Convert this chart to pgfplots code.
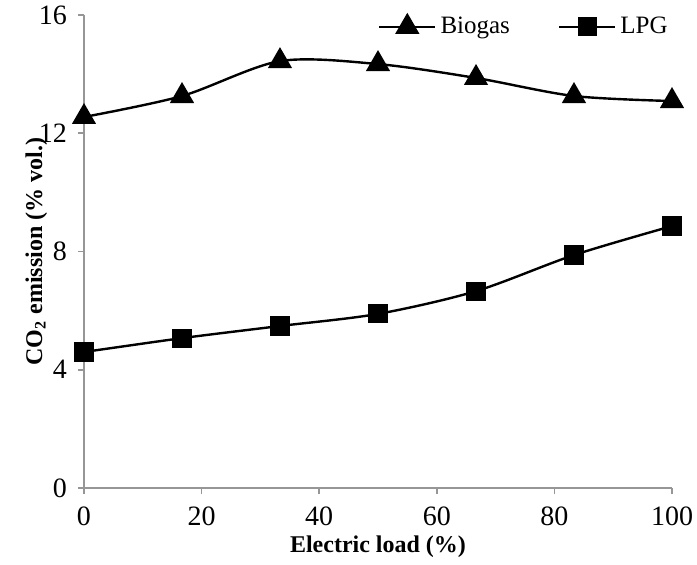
\documentclass[border=0pt]{standalone}
\usepackage{pgfplots}
\pgfplotsset{compat=1.18}
\usepackage{fontspec}
\setmainfont{Liberation Serif}
\definecolor{axgray}{RGB}{150,150,150}
\begin{document}
\begin{tikzpicture}
\begin{axis}[
  name=ax,
  scale only axis,
  width=294pt, height=236.5pt,
  xmin=0, xmax=100, ymin=0, ymax=16,
  xtick={0,20,40,60,80,100},
  ytick={0,4,8,12,16},
  axis lines=left,
  axis line style={axgray, line width=0.8pt, -},
  tick style={axgray, line width=0.8pt},
  tick align=outside,
  major tick length=3pt,
  /pgf/number format/assume math mode=true,
  ticklabel style={font=\fontsize{14}{14}\selectfont},
  xticklabel style={yshift=-3pt},
  yticklabel style={anchor=east, xshift=-2pt},
  xlabel={\textbf{Electric load (\%)}},
  ylabel={\textbf{CO\textsubscript{2} emission (\% vol.)}},
  label style={font=\fontsize{12}{12}\selectfont},
  xlabel style={yshift=2pt},
  ylabel style={yshift=-11pt},
  legend columns=2,
  legend style={draw=none, fill=none, at={(1.0,1.005)}, anchor=north east,
    font=\fontsize{12.5}{12.5}\selectfont, inner sep=0pt,
    /tikz/every even column/.append style={column sep=22pt}},
  legend image code/.code={%
    \draw[mark repeat=2,mark phase=2,#1] plot coordinates {(0pt,0pt) (14pt,0pt) (28pt,0pt)};},
  legend cell align=left,
  clip=false,
]
\addplot[black, line width=1.2pt, smooth, tension=0.5, mark=triangle*, mark size=5.8pt, mark options={solid}]
coordinates {(0,12.55) (16.67,13.26) (33.33,14.44) (50,14.34) (66.67,13.87) (83.33,13.26) (100,13.09)};
\addlegendentry{Biogas}
\addplot[black, line width=1.2pt, smooth, tension=0.5, mark=square*, mark size=4.2pt, mark options={solid}]
coordinates {(0,4.60) (16.67,5.07) (33.33,5.48) (50,5.89) (66.67,6.66) (83.33,7.88) (100,8.86)};
\addlegendentry{LPG}
\end{axis}
\pgfresetboundingbox
\path (ax.south west) ++(-42pt,-38pt) coordinate (bl);
\path (ax.north east) ++(12.5pt,7.5pt) coordinate (tr);
\path[use as bounding box] (bl) rectangle (tr);
\end{tikzpicture}
\end{document}
